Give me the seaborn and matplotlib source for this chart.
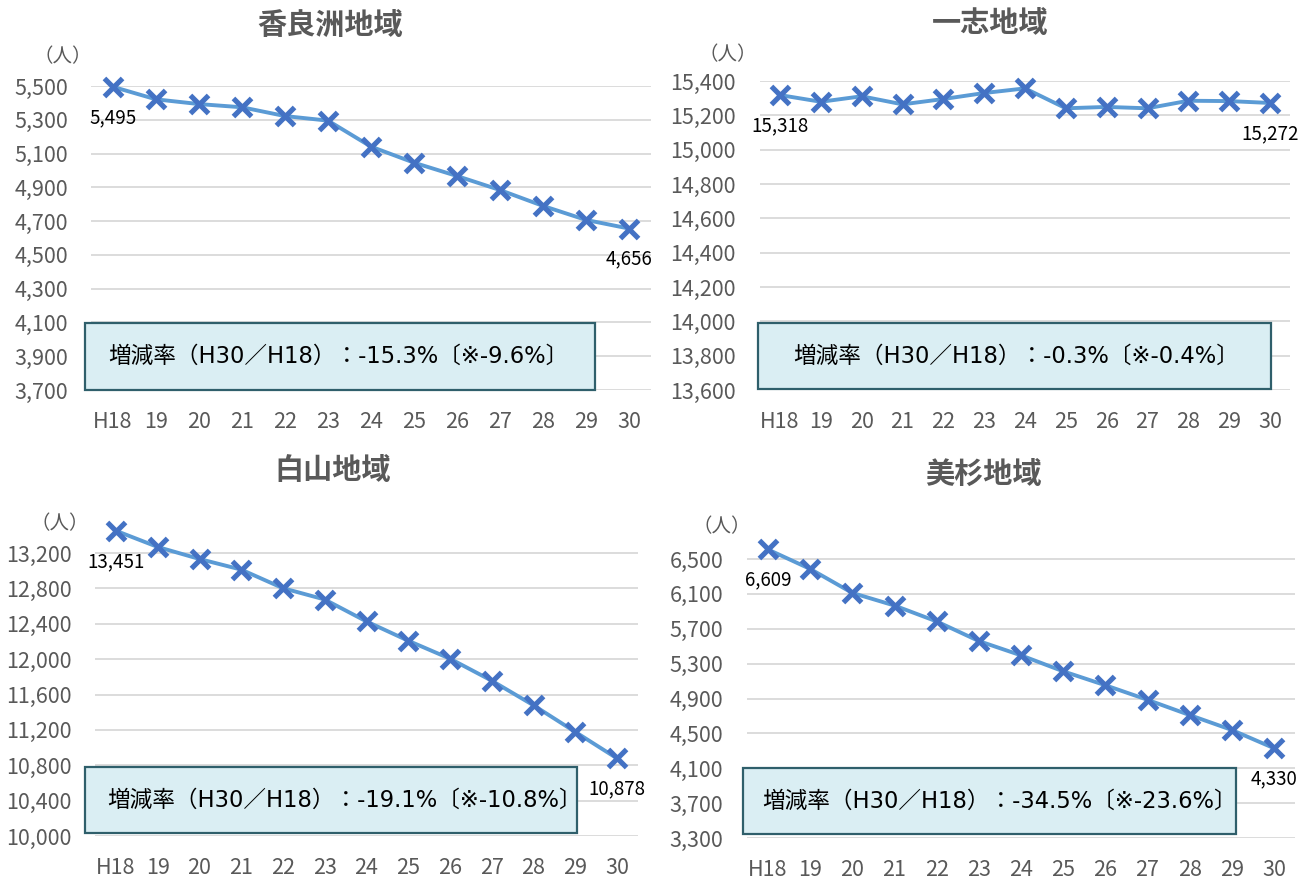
import numpy as np
import pandas as pd
import seaborn as sns
import matplotlib
matplotlib.use("Agg")
import matplotlib.pyplot as plt
from matplotlib.patches import Rectangle
from matplotlib.ticker import StrMethodFormatter

# ---------------- data ----------------
years = ["H18", "19", "20", "21", "22", "23", "24", "25", "26", "27", "28", "29", "30"]
karasu = [5495, 5421, 5393, 5374, 5322, 5295, 5141, 5046, 4967, 4884, 4790, 4707, 4656]
ichishi = [15318, 15279, 15311, 15264, 15295, 15330, 15357, 15241, 15249, 15241, 15285, 15283, 15272]
hakusan = [13451, 13268, 13132, 13012, 12802, 12674, 12426, 12208, 12005, 11756, 11478, 11177, 10878]
misugi = [6609, 6386, 6111, 5966, 5784, 5559, 5395, 5212, 5052, 4885, 4710, 4539, 4330]
titles = ["香良洲地域", "一志地域", "白山地域", "美杉地域"]
rates = [
    "増減率（H30／H18）：-15.3%〔※-9.6%〕",
    "増減率（H30／H18）：-0.3%〔※-0.4%〕",
    "増減率（H30／H18）：-19.1%〔※-10.8%〕",
    "増減率（H30／H18）：-34.5%〔※-23.6%〕",
]
unit = "（人）"
series = [karasu, ichishi, hakusan, misugi]
ylims = [(3700, 5500), (13600, 15400), (10000, 13600), (3300, 6700)]
yticks = [np.arange(3700, 5501, 200), np.arange(13600, 15401, 200),
          np.arange(10000, 13201, 400), np.arange(3300, 6501, 400)]

# ---------------- layout (pixels) ----------------
W, H = 1300, 881
geom = [
    (113, 629, 86, 5500, 390, 3700),
    (780, 1270, 81, 15400, 390, 13600),
    (116, 617, 553, 13200, 836, 10000),
    (768, 1274, 559, 6500, 838, 3300),
]
title_pos = [(330, 25), (990, 23), (333, 470), (983, 474)]
unit_pos = [(63, 57), (728, 55), (60, 524), (722, 527)]
boxes = [(85, 323, 595, 390), (758, 323, 1271, 389), (85, 767, 577, 833), (743, 768, 1236, 834)]
text_x = [108, 793, 107, 762]

LINE = "#5B9BD5"
MARK = "#4472C4"
GRAY = "#595959"
GRID = "#D9D9D9"
BOXF = "#DAEEF3"
BOXE = "#2F5F6B"

sns.set_theme(style="white")
plt.rcParams["font.family"] = ["Noto Sans CJK JP", "DejaVu Sans"]

fig = plt.figure(figsize=(W / 100, H / 100), dpi=100)


def rect_from(xf, xl, ya, va, yb, vb, ylim):
    dx = (xl - xf) / 12.0
    left = xf - 0.5 * dx
    right = xl + 0.5 * dx
    k = (yb - ya) / (va - vb)
    top = ya - (ylim[1] - va) * k
    bot = yb + (vb - ylim[0]) * k
    return [left / W, 1 - bot / H, (right - left) / W, (bot - top) / H]


for i in range(4):
    ax = fig.add_axes(rect_from(*geom[i], ylims[i]))
    df = pd.DataFrame({"x": np.arange(len(years)), "y": series[i]})
    sns.lineplot(data=df, x="x", y="y", ax=ax, color=LINE, linewidth=2.8, zorder=2)
    sns.scatterplot(data=df, x="x", y="y", ax=ax, marker="x", s=170, color=MARK,
                    edgecolor=MARK, linewidth=3.7, zorder=3, clip_on=False)
    ax.set_xlim(-0.5, 12.5)
    ax.set_ylim(*ylims[i])
    ax.set_xticks(np.arange(len(years)))
    ax.set_xticklabels(years)
    ax.set_yticks(yticks[i])
    ax.yaxis.set_major_formatter(StrMethodFormatter("{x:,.0f}"))
    ax.tick_params(axis="x", length=0, pad=15, labelsize=15.5, labelcolor=GRAY)
    ax.tick_params(axis="y", length=0, pad=17, labelsize=15.5, labelcolor=GRAY)
    ax.grid(axis="y", color=GRID, linewidth=1.3)
    ax.grid(axis="x", visible=False)
    ax.set_axisbelow(True)
    for s in ax.spines.values():
        s.set_visible(False)
    ax.set_xlabel("")
    ax.set_ylabel("")
    ax.patch.set_alpha(0)
    for j in (0, len(years) - 1):
        ax.annotate(f"{series[i][j]:,}", (j, series[i][j]), xytext=(0, -22),
                    textcoords="offset points", ha="center", va="center",
                    fontsize=13.5, color="black", zorder=5)

    tx, ty = title_pos[i]
    fig.text(tx / W, 1 - ty / H, titles[i], ha="center", va="center",
             fontsize=21, fontweight="bold", color=GRAY)
    ux, uy = unit_pos[i]
    fig.text(ux / W, 1 - uy / H, unit, ha="center", va="center", fontsize=14, color=GRAY)

    x0, y0, x1, y1 = boxes[i]
    fig.patches.append(Rectangle((x0 / W, 1 - y1 / H), (x1 - x0) / W, (y1 - y0) / H,
                                 transform=fig.transFigure, facecolor=BOXF,
                                 edgecolor=BOXE, linewidth=1.6, zorder=10))
    fig.text(text_x[i] / W, 1 - ((y0 + y1) / 2) / H, rates[i], ha="left", va="center",
             fontsize=16.3, color="black", zorder=11,
             family=["DejaVu Sans", "Noto Sans CJK JP"])

fig.savefig("out.png", dpi=100)
